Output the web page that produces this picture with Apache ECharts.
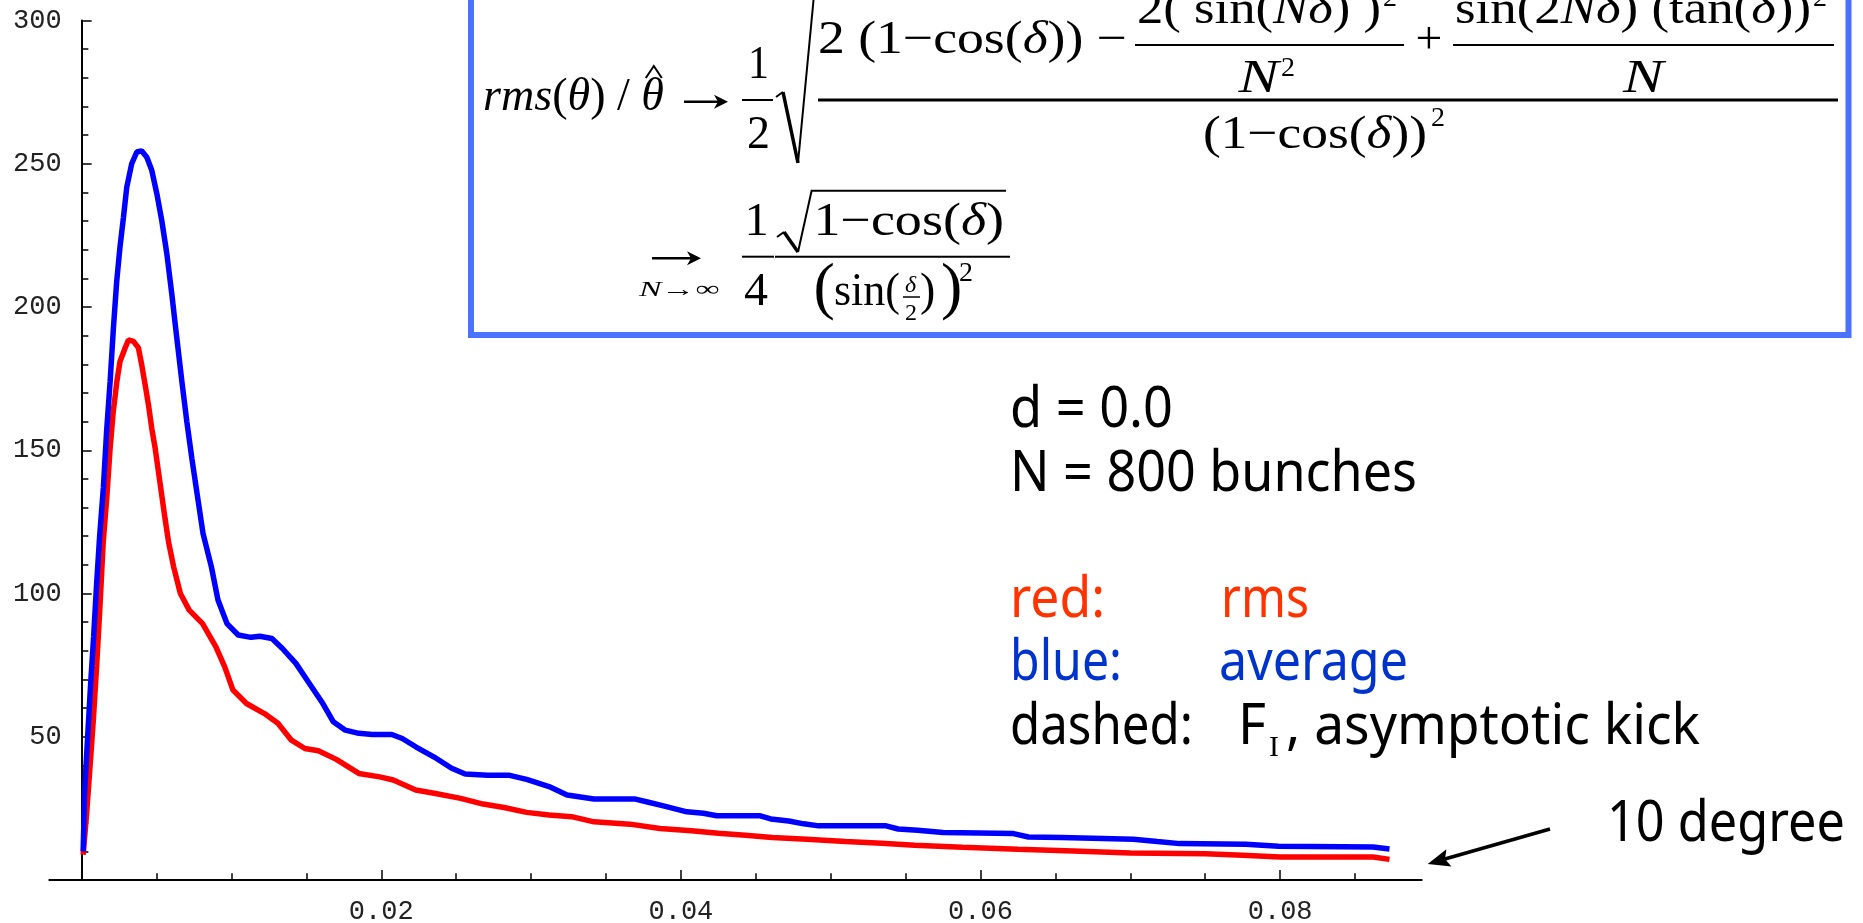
<!DOCTYPE html>
<html><head><meta charset="utf-8">
<script src="https://cdn.jsdelivr.net/npm/echarts@6/dist/echarts.min.js"></script>
<style>html,body{margin:0;padding:0;background:#fff}#c{width:1863px;height:923px}</style>
</head><body><div id="c"></div>
<script>
// ---- data ----
const avgPoints = [[0.0001,10],[0.0002,31],[0.0004,50],[0.0006,68.5],[0.0008,85],[0.0010,103.5],[0.0012,120],[0.00145,137],[0.00167,157],[0.0019,174],[0.00212,192.7],[0.00234,209],[0.00256,221],[0.00279,231.3],[0.00301,241.8],[0.00334,250],[0.00368,254.1],[0.0040,254.5],[0.00435,252.3],[0.00468,247.7],[0.00502,239.5],[0.00535,230.1],[0.00569,218.4],[0.00602,204.4],[0.00635,189.2],[0.00669,174],[0.00702,160],[0.00736,147],[0.00769,135.4],[0.0081,121],[0.00866,109.3],[0.0091,97.7],[0.0097,89.5],[0.01045,85.5],[0.0113,84.7],[0.0119,85.1],[0.0127,84.3],[0.0134,80.8],[0.0143,75.6],[0.0152,68.6],[0.0161,61.6],[0.0168,55.2],[0.0176,52.3],[0.0185,51.2],[0.0194,50.8],[0.0207,50.8],[0.0214,49.4],[0.0223,46.5],[0.0235,43.0],[0.0247,39.0],[0.0256,37.0],[0.0271,36.6],[0.0285,36.6],[0.0297,35.1],[0.0312,32.6],[0.0324,29.7],[0.0342,28.3],[0.0369,28.3],[0.0377,27.3],[0.0389,25.8],[0.0404,23.8],[0.0415,23.3],[0.0424,22.4],[0.0453,22.4],[0.0460,21.3],[0.0472,20.6],[0.0482,19.6],[0.0492,18.9],[0.0537,18.9],[0.0545,17.8],[0.0558,17.4],[0.0575,16.6],[0.0622,16.2],[0.0632,15.0],[0.0654,14.8],[0.0702,14.2],[0.0718,13.4],[0.0733,12.7],[0.0777,12.5],[0.0799,11.8],[0.0862,11.5],[0.0873,10.8]];
const rmsPoints = [[0.0001,8.8],[0.00033,23],[0.00056,39.7],[0.00078,56],[0.001,74.7],[0.00122,95.3],[0.00144,118],[0.00167,133],[0.00189,150],[0.0021,163],[0.00235,174],[0.00256,181],[0.0029,185.7],[0.00312,188.5],[0.00346,188],[0.00379,185.7],[0.00401,179.8],[0.00424,172.8],[0.00446,165.8],[0.00468,157.6],[0.00491,150.6],[0.00513,142.4],[0.00535,134.2],[0.00557,126],[0.0058,118],[0.00614,109.3],[0.00659,100],[0.00718,94.2],[0.00807,89.5],[0.00896,81.4],[0.00955,74.4],[0.0101,66.3],[0.011,61.6],[0.0122,58.1],[0.0131,54.7],[0.014,48.8],[0.0149,45.9],[0.0158,45.1],[0.017,42.1],[0.0185,37.2],[0.0199,36.0],[0.0208,34.9],[0.0223,31.4],[0.0238,30.0],[0.0253,28.5],[0.0268,26.5],[0.0282,25.3],[0.0297,23.6],[0.0312,22.7],[0.0327,22.1],[0.0342,20.3],[0.0366,19.5],[0.0386,18.0],[0.0407,17.2],[0.0425,16.3],[0.0443,15.6],[0.0461,14.8],[0.0484,14.2],[0.051,13.4],[0.0534,12.8],[0.0556,12.1],[0.0588,11.4],[0.0625,10.7],[0.0662,10.1],[0.07,9.4],[0.075,9.2],[0.0775,8.6],[0.08,8.0],[0.0862,8.0],[0.0873,7.2]];
const xLabelValues = [0.02, 0.04, 0.06, 0.08];
const xMajorTicks = [0, 0.02, 0.04, 0.06, 0.08];
const xMinorTicks = [0.005, 0.01, 0.015, 0.025, 0.03, 0.035, 0.045, 0.05, 0.055, 0.065, 0.07, 0.075, 0.085];
const xRange = [-0.00216, 0.08945];
const yRange = [0, 300];
const yStep = 50;

// ---- text / annotation helpers ----
const ctx = document.createElement('canvas').getContext('2d');
const SERIF = '"Liberation Serif", "Times New Roman", serif';
const SANS = '"Noto Sans", sans-serif';
function fontStr(fam, fs, it) { return (it ? 'italic ' : '') + fs + 'px ' + fam; }
const G = [];
function run(parts, x0, x1, base, fs, opt) {
  opt = opt || {};
  const fam = opt.fam || SERIF;
  const k = opt.k != null ? opt.k : (fam === SANS ? 0.388 : 0.337);
  const fill = opt.fill || '#000';
  const ws = parts.map(p => { ctx.font = fontStr(fam, fs, p[1] === 'i'); return ctx.measureText(p[0]).width; });
  const tot = ws.reduce((a, b) => a + b, 0);
  const s = (x1 != null) ? (x1 - x0) / tot : 1;
  let cx = x0;
  const pos = [];
  parts.forEach((p, i) => {
    G.push({type: 'text', x: cx, y: base - k * fs, scaleX: s, silent: true, z: 100,
      style: {text: p[0], font: fontStr(fam, fs, p[1] === 'i'), fill: fill, align: 'left', verticalAlign: 'middle'}});
    pos.push([cx, ws[i] * s]);
    cx += ws[i] * s;
  });
  return pos;
}
function seg(pts, w, color) {
  G.push({type: 'polyline', silent: true, z: 100, shape: {points: pts},
    style: {stroke: color || '#000', lineWidth: w, fill: null}});
}
function harrow(x0, x1, y) {
  seg([[x0, y], [x1 - 3, y]], 2.5);
  G.push({type: 'polygon', silent: true, z: 100,
    shape: {points: [[x1, y], [x1 - 14, y - 7], [x1 - 10, y], [x1 - 14, y + 7]]}, style: {fill: '#000'}});
}

// formula box
G.push({type: 'rect', silent: true, z: 99, shape: {x: 471, y: -30, width: 1377.5, height: 365},
  style: {fill: null, stroke: '#4a72ff', lineWidth: 6}});
// line 1
const lhs = run([['rms','i'],['(','u'],['θ','i'],[')','u'],[' / ','u'],['θ','i']], 483, 664, 113, 46);
const th = lhs[lhs.length - 1];
const hc = th[0] + th[1] * 0.55;
seg([[hc - 8, 78],[hc, 66],[hc + 8, 78]], 2);
harrow(684, 728, 101.7);
run([['1','u']], 748, 769, 81.7, 46);
seg([[742,100],[773,100]], 2);
run([['2','u']], 747, 770, 151.7, 46);
seg([[776,97],[783,92]], 2);
seg([[783,92],[798,163]], 3.5);
seg([[798,163],[814,-5]], 2);
seg([[818,100],[1838,100]], 3);
run([['2 (1','u'],['−','u'],['cos(','u'],['δ','i'],[')) −','u']], 818, 1127, 56.7, 46);
run([['2( sin(','u'],['Nδ','i'],[') )','u']], 1137, 1381, 26, 46);
run([['2','u']], 1383, null, 8, 28);
seg([[1135,45],[1404,45]], 2);
run([['N','i']], 1238.5, 1278.7, 95, 46);
run([['2','u']], 1281, null, 78, 28);
run([['+','u']], 1415.6, 1442.4, 56.7, 46);
run([['sin(2','u'],['Nδ','i'],[') (tan(','u'],['δ','i'],['))','u']], 1455, 1811, 26, 46);
run([['2','u']], 1813, null, 8, 28);
seg([[1453,45],[1834,45]], 2);
run([['N','i']], 1623, 1663.5, 95, 46);
run([['(1','u'],['−','u'],['cos(','u'],['δ','i'],['))','u']], 1203, 1427, 151.7, 46);
run([['2','u']], 1431, null, 128, 28);
// line 2
harrow(652, 701, 258.3);
run([['N','i'],['→∞','u']], 639, 719.5, 298, 22);
run([['1','u']], 744.5, 768.7, 238.3, 46);
seg([[742,256.7],[774,256.7]], 2);
run([['4','u']], 744, 768, 308, 46);
seg([[777,237],[784,232]], 2);
seg([[784,232],[798,252]], 3.5);
seg([[798,252],[811.6,190.7],[1006,190.7]], 2);
run([['1','u'],['−','u'],['cos(','u'],['δ','i'],[')','u']], 813.4, 1004, 238.3, 46);
seg([[775,256.7],[1010,256.7]], 2);
run([['(','u']], 813.4, null, 312, 64);
run([['sin(','u']], 834, 900, 308, 46);
run([['δ','i']], 905, null, 294, 24);
seg([[903,297],[920,297]], 1.5);
run([['2','u']], 905, null, 322, 24);
run([[')','u']], 920, null, 308, 46);
run([[')','u']], 941, null, 312, 64);
run([['2','u']], 959, null, 283, 28);

// annotations
const RED_TXT = '#ff3300', BLUE_TXT = '#0033cc';
run([['d = 0.0']], 1010, 1173, 432.7, 57, {fam: SANS});
run([['N = 800 bunches']], 1010, 1417, 496.7, 57, {fam: SANS});
run([['red:']], 1010, 1105, 623.3, 57, {fam: SANS, fill: RED_TXT});
run([['rms']], 1221, 1309, 623.3, 57, {fam: SANS, fill: RED_TXT});
run([['blue:']], 1010, 1122, 686, 57, {fam: SANS, fill: BLUE_TXT});
run([['average']], 1219, 1408, 686, 57, {fam: SANS, fill: BLUE_TXT});
run([['dashed:']], 1010, 1193, 750, 57, {fam: SANS});
run([['F']], 1238, 1266, 750, 57, {fam: SANS});
run([['I']], 1269, null, 758, 30, {fam: SERIF});
run([[', asymptotic kick']], 1286, 1700, 750, 57, {fam: SANS});
run([['10 degree']], 1607, 1845, 847.3, 57, {fam: SANS});
// arrow
seg([[1550,829],[1444,859.3]], 3.5);
G.push({type: 'polygon', silent: true, z: 100,
  shape: {points: [[1427.7,864],[1451.4,866.6],[1445,859],[1446.4,849.3]]},
  style: {fill: '#000'}});

// ---- chart ----
const chart = echarts.init(document.getElementById('c'), null, {renderer: 'canvas'});
const tickLine = {color: '#000', width: 1.5};
const labelFont = {fontFamily: '"Liberation Mono", monospace', fontSize: 27, color: '#222'};
chart.setOption({
  animation: false,
  backgroundColor: '#fff',
  grid: {left: 49.3, right: 441.3, top: 20.5, bottom: 43, containLabel: false, outerBoundsMode: 'none'},
  xAxis: [
    {type: 'value', min: xRange[0], max: xRange[1], position: 'bottom',
      splitLine: {show: false},
      axisLine: {show: true, onZero: true, lineStyle: {color: '#000', width: 2}},
      axisTick: {show: true, inside: true, length: 10, customValues: xMajorTicks, lineStyle: tickLine},
      axisLabel: Object.assign({show: true, customValues: xLabelValues, margin: 18,
        formatter: v => Number(v).toFixed(2)}, labelFont)},
    {type: 'value', min: xRange[0], max: xRange[1], position: 'bottom',
      splitLine: {show: false},
      axisLine: {show: false},
      axisTick: {show: true, inside: true, length: 6.7, customValues: xMinorTicks, lineStyle: tickLine},
      axisLabel: {show: false}}
  ],
  yAxis: {type: 'value', min: yRange[0], max: yRange[1], interval: yStep,
    splitLine: {show: false},
    axisLine: {show: true, onZero: true, onZeroAxisIndex: 0, lineStyle: {color: '#000', width: 2}},
    axisTick: {show: true, inside: true, length: 10, lineStyle: tickLine},
    minorTick: {show: true, splitNumber: 5, length: 6.7, lineStyle: tickLine},
    axisLabel: Object.assign({margin: -12.4, formatter: v => (v === 0 ? '' : String(v))}, labelFont)},
  series: [
    {name: 'rms', type: 'line', data: rmsPoints, xAxisIndex: 0, yAxisIndex: 0,
      showSymbol: false, symbol: 'none', z: 2,
      lineStyle: {color: '#ff0000', width: 5.5}, itemStyle: {color: '#ff0000'}},
    {name: 'average', type: 'line', data: avgPoints, xAxisIndex: 0, yAxisIndex: 0,
      showSymbol: false, symbol: 'none', z: 3,
      lineStyle: {color: '#0000ff', width: 5.5}, itemStyle: {color: '#0000ff'}}
  ],
  graphic: {elements: G}
});
</script>
</body></html>
